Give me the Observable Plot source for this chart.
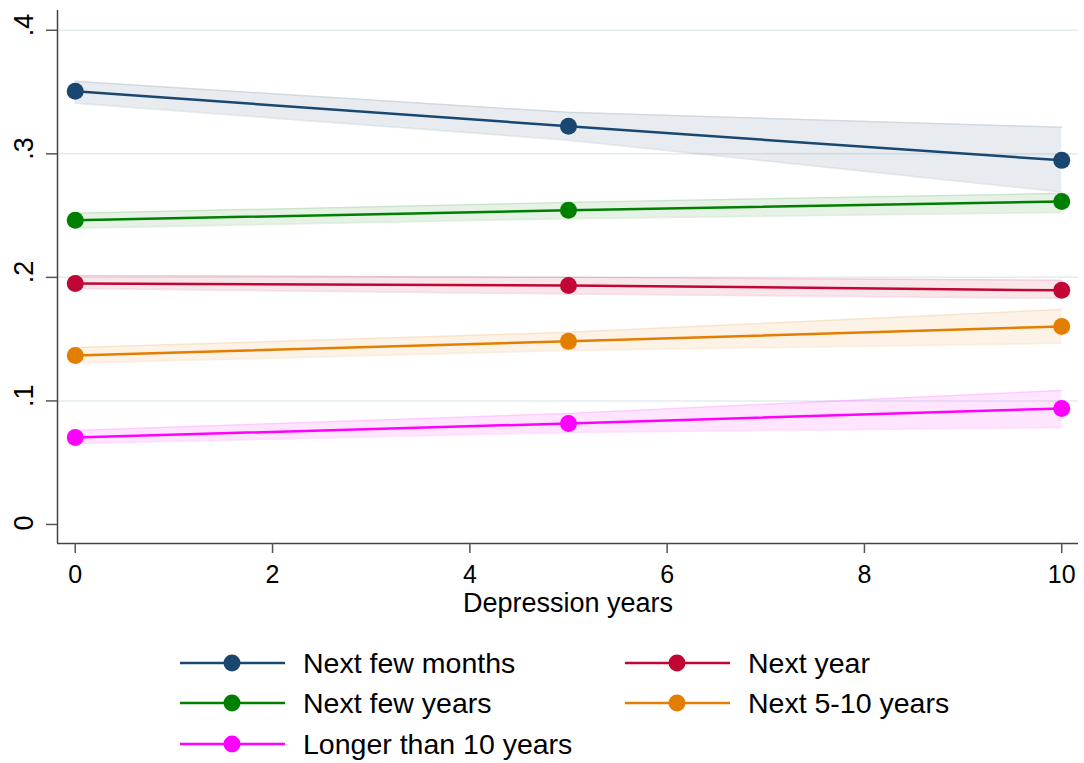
<!DOCTYPE html>
<html>
<head>
<meta charset="utf-8">
<script src="https://cdn.jsdelivr.net/npm/d3@7"></script>
<script src="https://cdn.jsdelivr.net/npm/@observablehq/plot@0.6"></script>
<style>
  body { margin: 0; background: #fff; font-family: "Liberation Sans", Arial, sans-serif; }
  #wrap { position: relative; width: 1084px; height: 763px; overflow: hidden; }
  #legend { position: absolute; left: 0; top: 630px; }
</style>
</head>
<body>
<div id="wrap"><div id="chart"></div><svg id="legend" width="1084" height="133"></svg></div>
<script>
// ---- Data ----
const years = [0, 5, 10];
const seriesNames = ["Next few months", "Next year", "Next few years", "Next 5-10 years", "Longer than 10 years"];
const seriesColors = ["#1a476f", "#c10534", "#008000", "#e37e00", "#ff00ff"];

const estFewMonths = [0.3506, 0.3223, 0.2947];
const loFewMonths  = [0.3409, 0.3110, 0.2690];
const hiFewMonths  = [0.3587, 0.3336, 0.3215];

const estNextYear = [0.1951, 0.1935, 0.1895];
const loNextYear  = [0.1910, 0.1865, 0.1830];
const hiNextYear  = [0.2016, 0.2000, 0.1976];

const estFewYears = [0.2462, 0.2543, 0.2615];
const loFewYears  = [0.2397, 0.2475, 0.2526];
const hiFewYears  = [0.2518, 0.2607, 0.2680];

const est5to10 = [0.1368, 0.1482, 0.1603];
const lo5to10  = [0.1304, 0.1409, 0.1466];
const hi5to10  = [0.1433, 0.1555, 0.1740];

const estLonger = [0.0704, 0.0818, 0.0939];
const loLonger  = [0.0656, 0.0745, 0.0785];
const hiLonger  = [0.0761, 0.0899, 0.1085];

const xTicks = [0, 2, 4, 6, 8, 10];
const yTicks = [0, 0.1, 0.2, 0.3, 0.4];
const yTickLabels = ["0", ".1", ".2", ".3", ".4"];
const xLabel = "Depression years";

// ---- Build table ----
const seriesData = [
  [estFewMonths, loFewMonths, hiFewMonths],
  [estNextYear, loNextYear, hiNextYear],
  [estFewYears, loFewYears, hiFewYears],
  [est5to10, lo5to10, hi5to10],
  [estLonger, loLonger, hiLonger]
];
const rows = [];
seriesNames.forEach((name, i) => {
  const [est, lo, hi] = seriesData[i];
  years.forEach((x, j) => rows.push({series: name, x, y: est[j], lo: lo[j], hi: hi[j]}));
});

const xDomain = [-0.18, 10.17];
const yDomain = [-0.0154, 0.416];
const font = "'Liberation Sans', Arial, sans-serif";

const chart = Plot.plot({
  width: 1084,
  height: 630,
  marginTop: 10,
  marginLeft: 57,
  marginRight: 6,
  marginBottom: 87,
  style: {fontFamily: font, background: "#fff", color: "#000"},
  x: {domain: xDomain},
  y: {domain: yDomain},
  color: {domain: seriesNames, range: seriesColors},
  marks: [
    Plot.gridY(yTicks.filter(d => d > 0), {stroke: "#e2ecef", strokeOpacity: 1, strokeWidth: 1.5}),
    Plot.areaY(rows, {x: "x", y1: "lo", y2: "hi", z: "series", fill: "series", fillOpacity: 0.1}),
    Plot.line(rows, {x: "x", y: "lo", z: "series", stroke: "series", strokeOpacity: 0.12, strokeWidth: 1.5}),
    Plot.line(rows, {x: "x", y: "hi", z: "series", stroke: "series", strokeOpacity: 0.12, strokeWidth: 1.5}),
    Plot.line(rows, {x: "x", y: "y", z: "series", stroke: "series", strokeWidth: 2.5}),
    Plot.dot(rows, {x: "x", y: "y", fill: "series", r: 8.5}),
    Plot.ruleX([xDomain[0]], {stroke: "#444", strokeWidth: 1.5}),
    Plot.ruleY([yDomain[0]], {stroke: "#444", strokeWidth: 1.5}),
    Plot.axisX(xTicks, {tickSize: 10, tickPadding: 12, fontSize: 25, stroke: "#555", strokeWidth: 1.5, fill: "#000", label: null}),
    Plot.axisY(yTicks, {tickSize: 11, stroke: "#555", strokeWidth: 1.5, tickFormat: () => "", label: null}),
    Plot.text(yTicks, {y: d => d, text: (d, i) => yTickLabels[i], frameAnchor: "left", dx: -33, dy: 6, rotate: -90, fontSize: 27, fill: "#000"}),
    Plot.text([xLabel], {text: d => d, frameAnchor: "bottom", lineAnchor: "middle", dy: 60, fontSize: 27, fill: "#000"})
  ]
});
document.getElementById("chart").appendChild(chart);

// ---- Legend ----
const legendPos = [[180, 33], [625, 33], [180, 73], [625, 73], [180, 114]];
const lg = d3.select("#legend");
seriesNames.forEach((name, i) => {
  const [lx, ly] = legendPos[i];
  const g = lg.append("g").attr("transform", `translate(${lx},${ly})`);
  g.append("line").attr("x1", 0).attr("x2", 105).attr("y1", 0).attr("y2", 0)
    .attr("stroke", seriesColors[i]).attr("stroke-width", 2.5);
  g.append("circle").attr("cx", 52).attr("cy", 0).attr("r", 8.5).attr("fill", seriesColors[i]);
  g.append("text").attr("x", 123).attr("y", 10).attr("font-size", 28.5)
    .attr("font-family", font).attr("fill", "#000").text(name);
});
</script>
</body>
</html>
